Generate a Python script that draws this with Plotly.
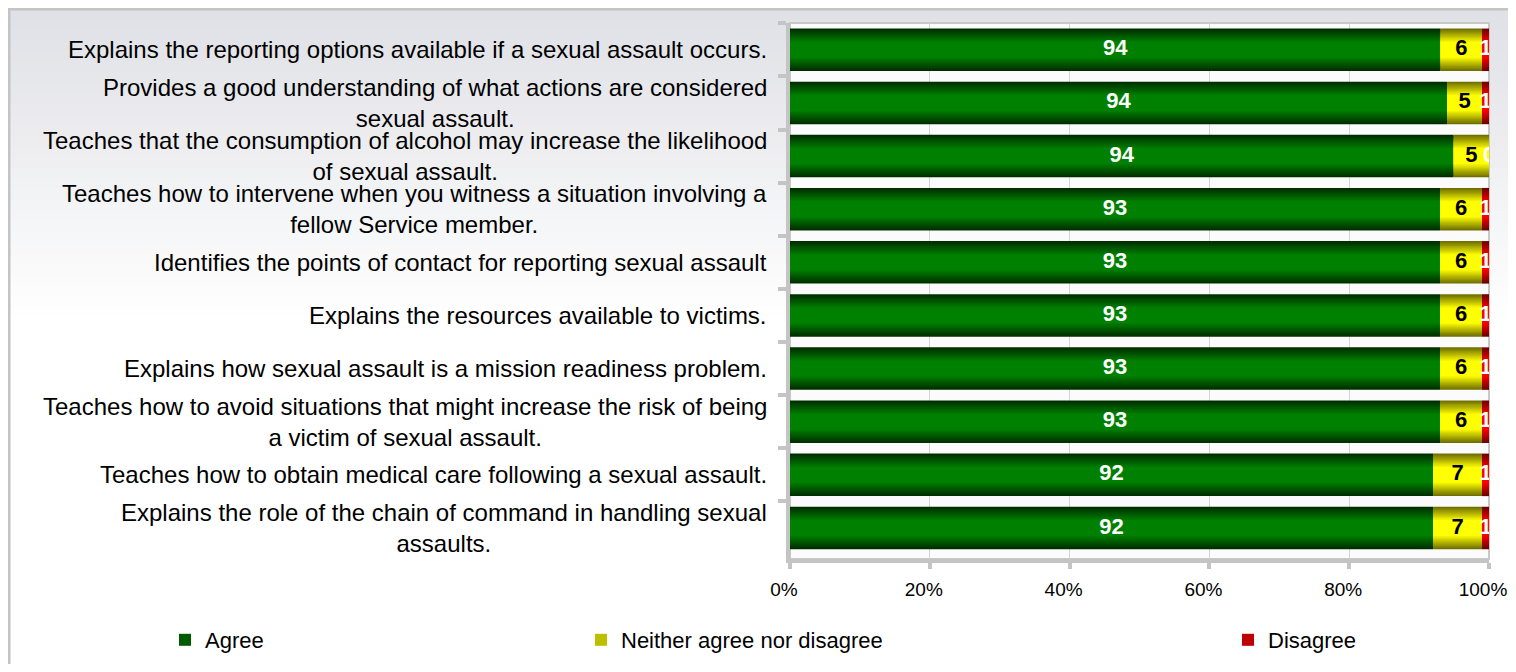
import plotly.graph_objects as go

categories = [
    "Explains the reporting options available if a sexual assault occurs.",
    "Provides a good understanding of what actions are considered<br>sexual assault.",
    "Teaches that the consumption of alcohol may increase the likelihood<br>of sexual assault.",
    "Teaches how to intervene when you witness a situation involving a<br>fellow Service member.",
    "Identifies the points of contact for reporting sexual assault",
    "Explains the resources available to victims.",
    "Explains how sexual assault is a mission readiness problem.",
    "Teaches how to avoid situations that might increase the risk of being<br>a victim of sexual assault.",
    "Teaches how to obtain medical care following a sexual assault.",
    "Explains the role of the chain of command in handling sexual<br>assaults.",
]
agree = [94, 94, 94, 93, 93, 93, 93, 93, 92, 92]
neither = [6, 5, 5, 6, 6, 6, 6, 6, 7, 7]
disagree = [1, 1, 0, 1, 1, 1, 1, 1, 1, 1]

tick_vals = [0, 20, 40, 60, 80, 100]
tick_text = ["0%", "20%", "40%", "60%", "80%", "100%"]

series = [
    ("Agree", agree, (0x00, 0x2e, 0x00), (0x00, 0x80, 0x00), "white", "legend"),
    ("Neither agree nor disagree", neither, (0x70, 0x70, 0x00), (0xff, 0xff, 0x00), "black", "legend2"),
    ("Disagree", disagree, (0x70, 0x00, 0x00), (0xff, 0x00, 0x00), "white", "legend3"),
]

ids = [f"c{i}" for i in range(len(categories))]
totals = [a + n + d for a, n, d in zip(agree, neither, disagree)]

fig = go.Figure()

N = 12
base = [0.0] * len(categories)
text_traces = []
for name, vals, dark, bright, tcol, leg in series:
    pct = [v / t * 100 for v, t in zip(vals, totals)]
    for k in range(N):
        t = k / (N - 1)
        col = tuple(int(round(dark[j] + (bright[j] - dark[j]) * t)) for j in range(3))
        w = 0.8 - k * (0.8 - 0.3) / (N - 1)
        fig.add_trace(go.Bar(
            y=ids, x=pct, base=base, orientation="h", width=w,
            marker=dict(color="rgb(%d,%d,%d)" % col, line=dict(width=0)),
            name=name, legend=leg, showlegend=(k == N // 2),
            hoverinfo="skip",
        ))
    text_traces.append(go.Scatter(
        y=ids, x=[b + p / 2 for b, p in zip(base, pct)], mode="text",
        text=[str(v) for v in vals],
        textfont=dict(family="Liberation Sans, Arial", size=22, color=tcol, weight="bold"),
        showlegend=False, hoverinfo="skip", cliponaxis=True,
    ))
    base = [b + p for b, p in zip(base, pct)]

for tt in text_traces:
    fig.add_trace(tt)

# page is offset by the 8px body margin; figure coordinates below
OFF = 8
W, H = 1516 - 2 * OFF, 672 - 2 * OFF
L, R, T, B = 790 - OFF, 1489 - OFF, 23 - OFF, 559 - OFF
pw, ph = R - L, B - T

def px_x(p):
    return (p - L) / pw

def px_y(p):
    return (B - p) / ph

shapes = []
# background gradient bands (outside the plot area)
top_c = (0xe0, 0xe1, 0xe6)
bot_c = (0xff, 0xff, 0xff)
nb = 30
y0, y1 = 0, 320
for i in range(nb):
    a = y0 + (y1 - y0) * i / nb
    b = y0 + (y1 - y0) * (i + 1) / nb + 1
    t = i / (nb - 1)
    c = "rgb(%d,%d,%d)" % tuple(int(round(top_c[j] + (bot_c[j] - top_c[j]) * t)) for j in range(3))
    pieces = []
    if a < T:
        pieces.append((-10, W + 10, a, min(b, T)))
    if b > T:
        aa = max(a, T)
        pieces.append((-10, L, aa, b))
        pieces.append((R, W + 10, aa, b))
    for (xa, xb, ya, yb) in pieces:
        shapes.append(dict(type="rect", xref="paper", yref="paper",
                           x0=px_x(xa), x1=px_x(xb), y0=px_y(yb), y1=px_y(ya),
                           fillcolor=c, line=dict(width=0), layer="below"))
# outer border
shapes.append(dict(type="rect", xref="paper", yref="paper",
                   x0=px_x(1), x1=px_x(W + 20), y0=px_y(H + 20), y1=px_y(1),
                   fillcolor="rgba(0,0,0,0)", line=dict(color="#c4c4c4", width=3), layer="below"))
# plot area outline
shapes.append(dict(type="rect", xref="paper", yref="paper", x0=0, x1=1, y0=0, y1=1,
                   fillcolor="rgba(0,0,0,0)", line=dict(color="#c8c8c8", width=2), layer="below"))

annotations = []
for cid, cat in zip(ids, categories):
    annotations.append(dict(
        x=0, xref="paper", xshift=-21, y=cid, yref="y",
        text=cat, showarrow=False, xanchor="right", yanchor="middle", align="center",
        font=dict(family="Liberation Sans, Arial", size=24, color="#000000"),
    ))

legend_common = dict(xref="container", yref="container", orientation="h",
                     xanchor="left", yanchor="middle", bgcolor="rgba(0,0,0,0)",
                     font=dict(size=22, color="#000000"))
leg_y = 1 - (640 - OFF) / H

fig.update_layout(
    width=W, height=H,
    margin=dict(l=L, r=W - R, t=T, b=H - B, pad=0, autoexpand=False),
    barmode="overlay",
    paper_bgcolor="#ffffff",
    plot_bgcolor="#fbfbfb",
    shapes=shapes,
    annotations=annotations,
    font=dict(family="Liberation Sans, Arial", color="#000000"),
    xaxis=dict(
        range=[0, 100], tickmode="array", tickvals=tick_vals, ticktext=tick_text,
        showgrid=True, gridcolor="#d4d4d4", gridwidth=1, automargin=False,
        showline=True, linecolor="#c4c4c4", linewidth=4,
        ticks="outside", ticklen=6, tickwidth=4, tickcolor="#c4c4c4",
        ticklabelstandoff=4, ticklabeloverflow="allow", ticklabelshift=-6,
        tickfont=dict(size=19, color="#000000"), zeroline=False,
    ),
    yaxis=dict(
        type="category", categoryorder="array", categoryarray=ids,
        autorange="reversed", showticklabels=False, automargin=False,
        showline=True, linecolor="#c4c4c4", linewidth=4,
        ticks="outside", ticklen=8, tickwidth=4, tickcolor="#c4c4c4",
        tickson="boundaries", showgrid=False, zeroline=False,
    ),
    legend=dict(x=157 / W, y=leg_y, **legend_common),
    legend2=dict(x=573 / W, y=leg_y, **legend_common),
    legend3=dict(x=1220 / W, y=leg_y, **legend_common),
)

fig.write_html("out.html")
